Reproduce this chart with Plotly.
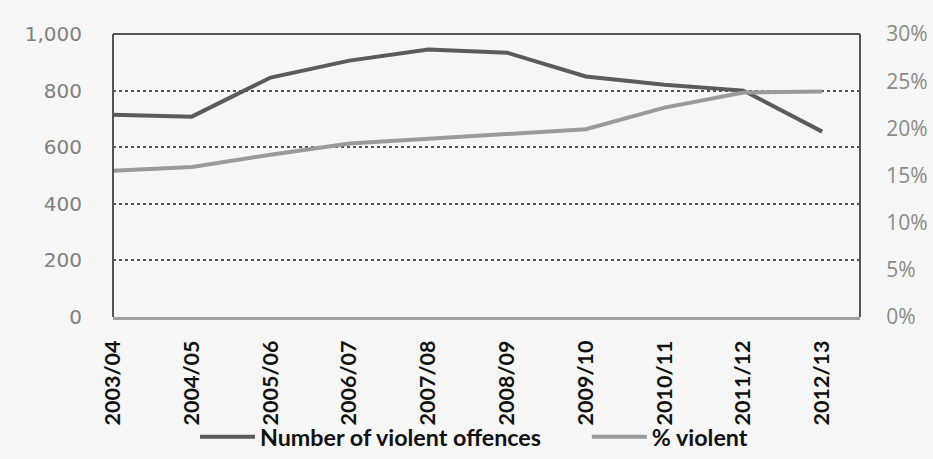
import plotly.graph_objects as go

# Financial years
years = ["2003/04", "2004/05", "2005/06", "2006/07", "2007/08",
         "2008/09", "2009/10", "2010/11", "2011/12", "2012/13"]

# Number of violent offences (left axis)
violent_offences = [715, 708, 846, 906, 945, 934, 850, 821, 800, 655]

# Share of offences that were violent, % (right axis)
pct_violent = [15.5, 15.9, 17.2, 18.4, 18.9, 19.4, 19.9, 22.2, 23.8, 23.9]

left_ticks = [0, 200, 400, 600, 800, 1000]
left_ticktext = ["0", "200", "400", "600", "800", "1,000"]
right_ticks = [0, 5, 10, 15, 20, 25, 30]
right_ticktext = ["0%", "5%", "10%", "15%", "20%", "25%", "30%"]

BG = "#f6f6f6"
DARK = "#5b5b5b"
LIGHT = "#9a9a9a"

fig = go.Figure()
fig.add_trace(go.Scatter(
    x=years, y=violent_offences, name="Number of violent offences",
    mode="lines", line=dict(color=DARK, width=4), yaxis="y", legend="legend",
))
fig.add_trace(go.Scatter(
    x=years, y=pct_violent, name="% violent",
    mode="lines", line=dict(color=LIGHT, width=4), yaxis="y2", legend="legend2",
))

legend_font = dict(family="Lato", size=23.3, color="#111111", weight="bold")

fig.update_layout(
    width=933, height=459,
    margin=dict(l=113, r=73, t=34, b=142, autoexpand=False),
    paper_bgcolor=BG, plot_bgcolor=BG,
    showlegend=True,
    legend=dict(
        orientation="h", x=0.1097, xanchor="left", y=-0.424, yanchor="middle",
        font=legend_font, bgcolor="rgba(0,0,0,0)", itemwidth=55,
    ),
    legend2=dict(
        orientation="h", x=0.6343, xanchor="left", y=-0.424, yanchor="middle",
        font=legend_font, bgcolor="rgba(0,0,0,0)", itemwidth=55,
    ),
    xaxis=dict(
        type="category", range=[0, 9.48],
        showgrid=False, zeroline=False,
        showline=True, linecolor="#a0a0a0", linewidth=3,
        tickangle=-90, ticks="outside", ticklen=12, tickcolor="rgba(0,0,0,0)",
        tickfont=dict(family="Lato", size=21.5, color="#111111", weight="bold"),
    ),
    yaxis=dict(
        range=[0, 1000], tickvals=left_ticks, ticktext=left_ticktext,
        showgrid=True, gridcolor="#555555", gridwidth=2, griddash="dot",
        zeroline=False, showline=False,
        ticks="outside", ticklen=26, tickcolor="rgba(0,0,0,0)",
        tickfont=dict(family="DejaVu Sans", size=20, color="#808080"),
    ),
    yaxis2=dict(
        range=[0, 30], tickvals=right_ticks, ticktext=right_ticktext,
        overlaying="y", side="right", showgrid=False, zeroline=False,
        showline=False,
        ticks="outside", ticklen=21, tickcolor="rgba(0,0,0,0)",
        tickfont=dict(family="Open Sans", size=21, color="#8a8a8a"),
    ),
    shapes=[
        # plot frame: left, top, right edges
        dict(type="line", xref="paper", yref="paper", x0=0, x1=0, y0=0, y1=1,
             line=dict(color="#555555", width=2)),
        dict(type="line", xref="paper", yref="paper", x0=0, x1=1, y0=1, y1=1,
             line=dict(color="#555555", width=2)),
        dict(type="line", xref="paper", yref="paper", x0=1, x1=1, y0=0, y1=1,
             line=dict(color="#555555", width=2)),
    ],
)

fig.write_html("out.html")
